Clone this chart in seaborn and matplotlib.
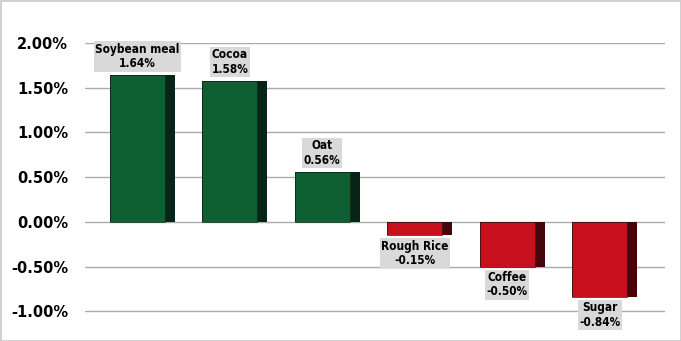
import matplotlib
matplotlib.use("Agg")
import matplotlib.pyplot as plt
import seaborn as sns
import pandas as pd
from matplotlib.patches import Rectangle
from matplotlib.ticker import FuncFormatter

categories = ["Soybean meal", "Cocoa", "Oat", "Rough Rice", "Coffee", "Sugar"]
values = [1.64, 1.58, 0.56, -0.15, -0.50, -0.84]
yticks = [-1.0, -0.5, 0.0, 0.5, 1.0, 1.5, 2.0]

df = pd.DataFrame({"cat": categories, "val": values})
front_cols = ["#0F5F33" if v >= 0 else "#C8101C" for v in values]
side_cols = ["#062516" if v >= 0 else "#45050A" for v in values]

sns.set_style("white")
plt.rcParams['font.family'] = ['DejaVu Sans']
plt.rcParams['text.color'] = 'black'
plt.rcParams['ytick.color'] = 'black'
fig = plt.figure(figsize=(6.81, 3.41), dpi=100)
ax = fig.add_axes([85/681, 1 - 313/341, 580/681, 270/341])

total_w = 0.70
front_w = 0.59
sns.barplot(data=df, x="cat", y="val", hue="cat", palette=side_cols, width=total_w,
            legend=False, ax=ax, saturation=1, edgecolor="none", zorder=3)
n = len(ax.patches)
sns.barplot(data=df, x="cat", y="val", hue="cat", palette=front_cols, width=front_w,
            legend=False, ax=ax, saturation=1, edgecolor="#1a1a1a", linewidth=0.4, zorder=4)
shift = (total_w - front_w) / 2
for p in ax.patches[n:]:
    p.set_x(p.get_x() - shift)

for i, (c, v) in enumerate(zip(categories, values)):
    kw = dict(ha="center", fontsize=8.5, fontweight="bold", fontstretch="condensed",
              linespacing=1.15, zorder=5, color="black", clip_on=False,
              bbox=dict(boxstyle="square,pad=0.12", fc="#D9D9D9", ec="none"))
    if v >= 0:
        ax.text(i - shift, v + 0.055, f"{c}\n{v:.2f}%", va="bottom", **kw)
    else:
        ax.text(i - shift, v - 0.05, f"{c}\n{v:.2f}%", va="top", **kw)

ax.set_ylim(-1.02, 2.0)
ax.set_xlim(-0.62, 5.65)
ax.set_yticks(yticks)
ax.yaxis.set_major_formatter(FuncFormatter(lambda y, _: f"{y:.2f}%"))
ax.yaxis.grid(True, color="#ABABAB", linewidth=1.0, zorder=0)
ax.set_axisbelow(True)
ax.set_xticks([])
ax.set_xlabel("")
ax.set_ylabel("")
for s in ax.spines.values():
    s.set_visible(False)
ax.tick_params(axis="y", length=0, pad=12, labelsize=10.5, labelcolor="black")
for t in ax.get_yticklabels():
    t.set_fontweight("bold")

fig.patches.append(Rectangle((0.5/681, 0.5/341), 680/681, 340/341, transform=fig.transFigure,
                             fill=False, ec="#C8C8C8", lw=1.2))
fig.savefig("out.png", dpi=100)
